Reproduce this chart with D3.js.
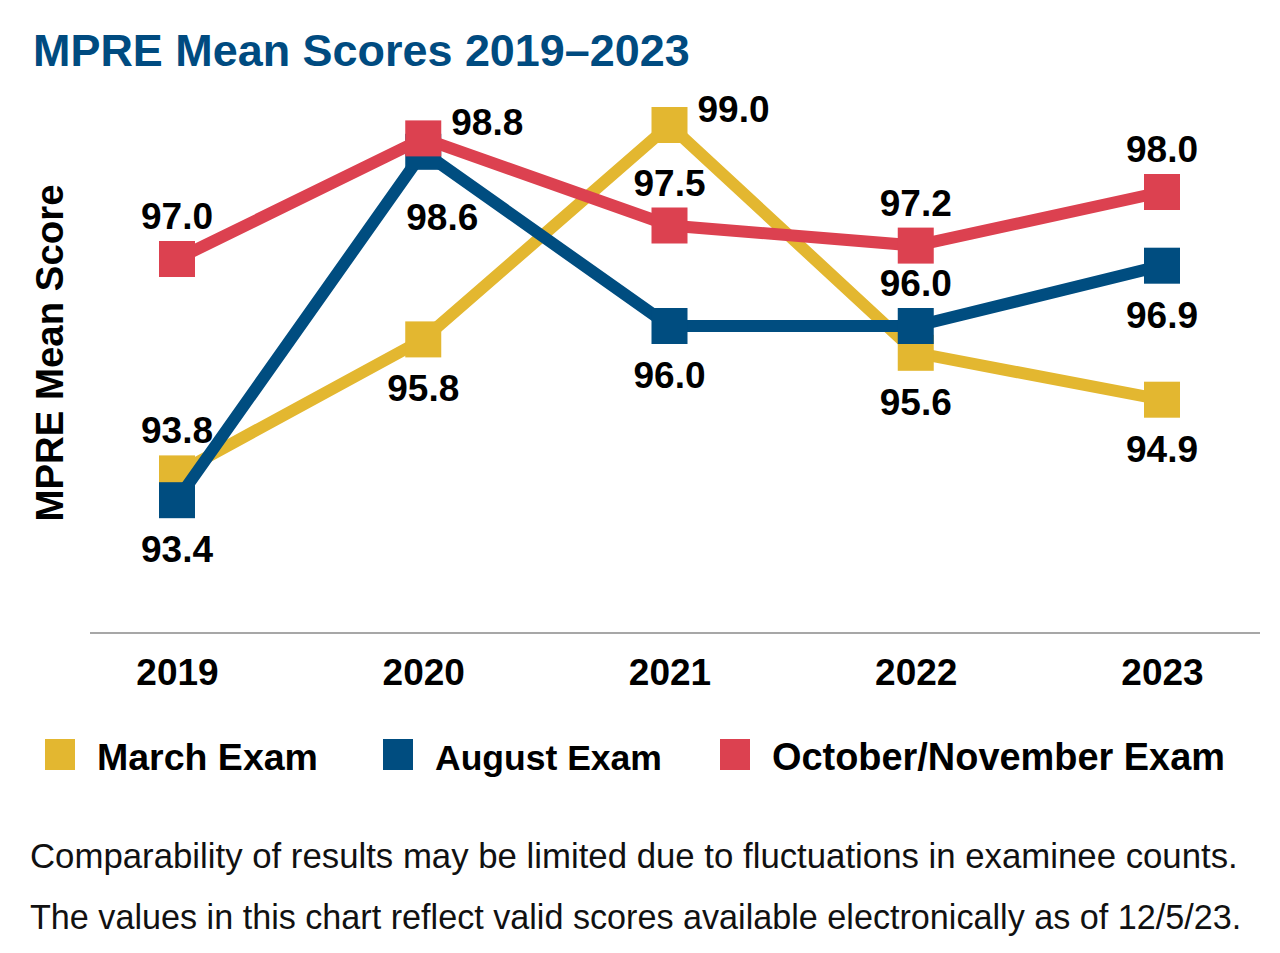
<!DOCTYPE html>
<html lang="en">
<head>
<meta charset="UTF-8">
<title>MPRE Mean Scores 2019–2023</title>
<script src="https://d3js.org/d3.v7.min.js"></script>
<style>
    body { margin: 0; background: #fff; }
    svg { display: block; font-family: "Liberation Sans", Arial, sans-serif; }
    path.series { fill: none; stroke-width: 12px; }
</style>
</head>
<body>
<svg width="1280" height="953" viewBox="0 0 1280 953"></svg>
<script>
    // data
    const years = ['2019', '2020', '2021', '2022', '2023'];
    const seriesNames = ['March Exam', 'August Exam', 'October/November Exam'];
    const marchScores = [93.8, 95.8, 99.0, 95.6, 94.9];
    const augustScores = [93.4, 98.6, 96.0, 96.0, 96.9];
    const octNovScores = [97.0, 98.8, 97.5, 97.2, 98.0];
    // where each value label sits relative to its marker
    const marchLabelPos = ['above', 'below', 'right', 'below', 'below'];
    const augustLabelPos = ['below', 'belowRight', 'below', 'above', 'below'];
    const octNovLabelPos = ['above', 'right', 'above', 'above', 'above'];
    const seriesColors = ['#E3B730', '#004D80', '#DC4150'];
    const footnotes = [
        'Comparability of results may be limited due to fluctuations in examinee counts.',
        'The values in this chart reflect valid scores available electronically as of 12/5/23.'
    ];

    const svg = d3.select('svg');
    const markerSize = 36;
    const labelOffsets = {
        above: {dx: 0, dy: -30, anchor: 'middle'},
        below: {dx: 0, dy: 62, anchor: 'middle'},
        belowRight: {dx: 19, dy: 78, anchor: 'middle'},
        right: {dx: 28, dy: -3, anchor: 'start'}
    };

    function fitWidth(sel, w) {
        let cur = sel.node().getComputedTextLength();
        let fs = parseFloat(sel.attr('font-size'));
        sel.attr('font-size', fs * w / cur);
    }

    let series = [
        {name: seriesNames[0], values: marchScores, pos: marchLabelPos, color: seriesColors[0]},
        {name: seriesNames[1], values: augustScores, pos: augustLabelPos, color: seriesColors[1]},
        {name: seriesNames[2], values: octNovScores, pos: octNovLabelPos, color: seriesColors[2]}
    ];

    let xScale = d3.scalePoint().domain(years).range([177, 1162]);
    let yScale = d3.scaleLinear().domain([93, 99]).range([527, 125]);

    // title
    let title = svg.append('text')
        .attr('x', 33).attr('y', 66)
        .attr('font-size', 44).attr('font-weight', 'bold')
        .attr('fill', '#004B80')
        .text('MPRE Mean Scores 2019–2023');
    fitWidth(title, 657);

    // y axis title
    let yTitle = svg.append('text')
        .attr('transform', 'translate(63,353) rotate(-90)')
        .attr('text-anchor', 'middle')
        .attr('font-size', 38).attr('font-weight', 'bold')
        .text('MPRE Mean Score');
    fitWidth(yTitle, 337);

    // baseline
    svg.append('line')
        .attr('x1', 90).attr('x2', 1260)
        .attr('y1', 633).attr('y2', 633)
        .attr('stroke', '#8a8a8a').attr('stroke-width', 1.5);

    let xAxis = svg.append('g')
        .attr('transform', 'translate(0,633)')
        .call(d3.axisBottom(xScale).tickSize(0));
    xAxis.select('.domain').remove();
    xAxis.selectAll('text')
        .attr('y', 52).attr('dy', 0)
        .attr('font-size', 37).attr('font-weight', 'bold')
        .attr('font-family', '"Liberation Sans", Arial, sans-serif')
        .attr('fill', '#000');

    let line = d3.line()
        .x(function (d, i) { return xScale(years[i]); })
        .y(function (d) { return yScale(d); });

    let fig = svg.append('g');
    series.forEach(function (s) {
        let g = fig.append('g');
        g.append('path').datum(s.values)
            .attr('class', 'series')
            .attr('stroke', s.color)
            .attr('d', line);
        g.selectAll('rect').data(s.values).join('rect')
            .attr('x', function (d, i) { return xScale(years[i]) - markerSize / 2; })
            .attr('y', function (d) { return yScale(d) - markerSize / 2; })
            .attr('width', markerSize).attr('height', markerSize)
            .attr('fill', s.color);
    });

    // value labels on top
    let labels = svg.append('g')
        .attr('font-size', 37).attr('font-weight', 'bold');
    series.forEach(function (s) {
        labels.selectAll(null).data(s.values).join('text')
            .attr('x', function (d, i) { return xScale(years[i]) + labelOffsets[s.pos[i]].dx; })
            .attr('y', function (d, i) { return yScale(d) + labelOffsets[s.pos[i]].dy; })
            .attr('text-anchor', function (d, i) { return labelOffsets[s.pos[i]].anchor; })
            .text(function (d) { return d.toFixed(1); });
    });

    // legend
    const legendX = [45, 383, 720];
    const legendW = [221, 227, 453];
    let legend = svg.append('g');
    series.forEach(function (s, i) {
        legend.append('rect')
            .attr('x', legendX[i]).attr('y', 739)
            .attr('width', 30).attr('height', 31)
            .attr('fill', s.color);
        let t = legend.append('text')
            .attr('x', legendX[i] + 52).attr('y', 770)
            .attr('font-size', 36).attr('font-weight', 'bold')
            .text(s.name);
        fitWidth(t, legendW[i]);
    });

    // footnotes
    const noteY = [868, 929];
    const noteW = [1208, 1212];
    footnotes.forEach(function (f, i) {
        let t = svg.append('text')
            .attr('x', 30).attr('y', noteY[i])
            .attr('font-size', 30)
            .attr('fill', '#111')
            .text(f);
        fitWidth(t, noteW[i]);
    });
</script>
</body>
</html>
